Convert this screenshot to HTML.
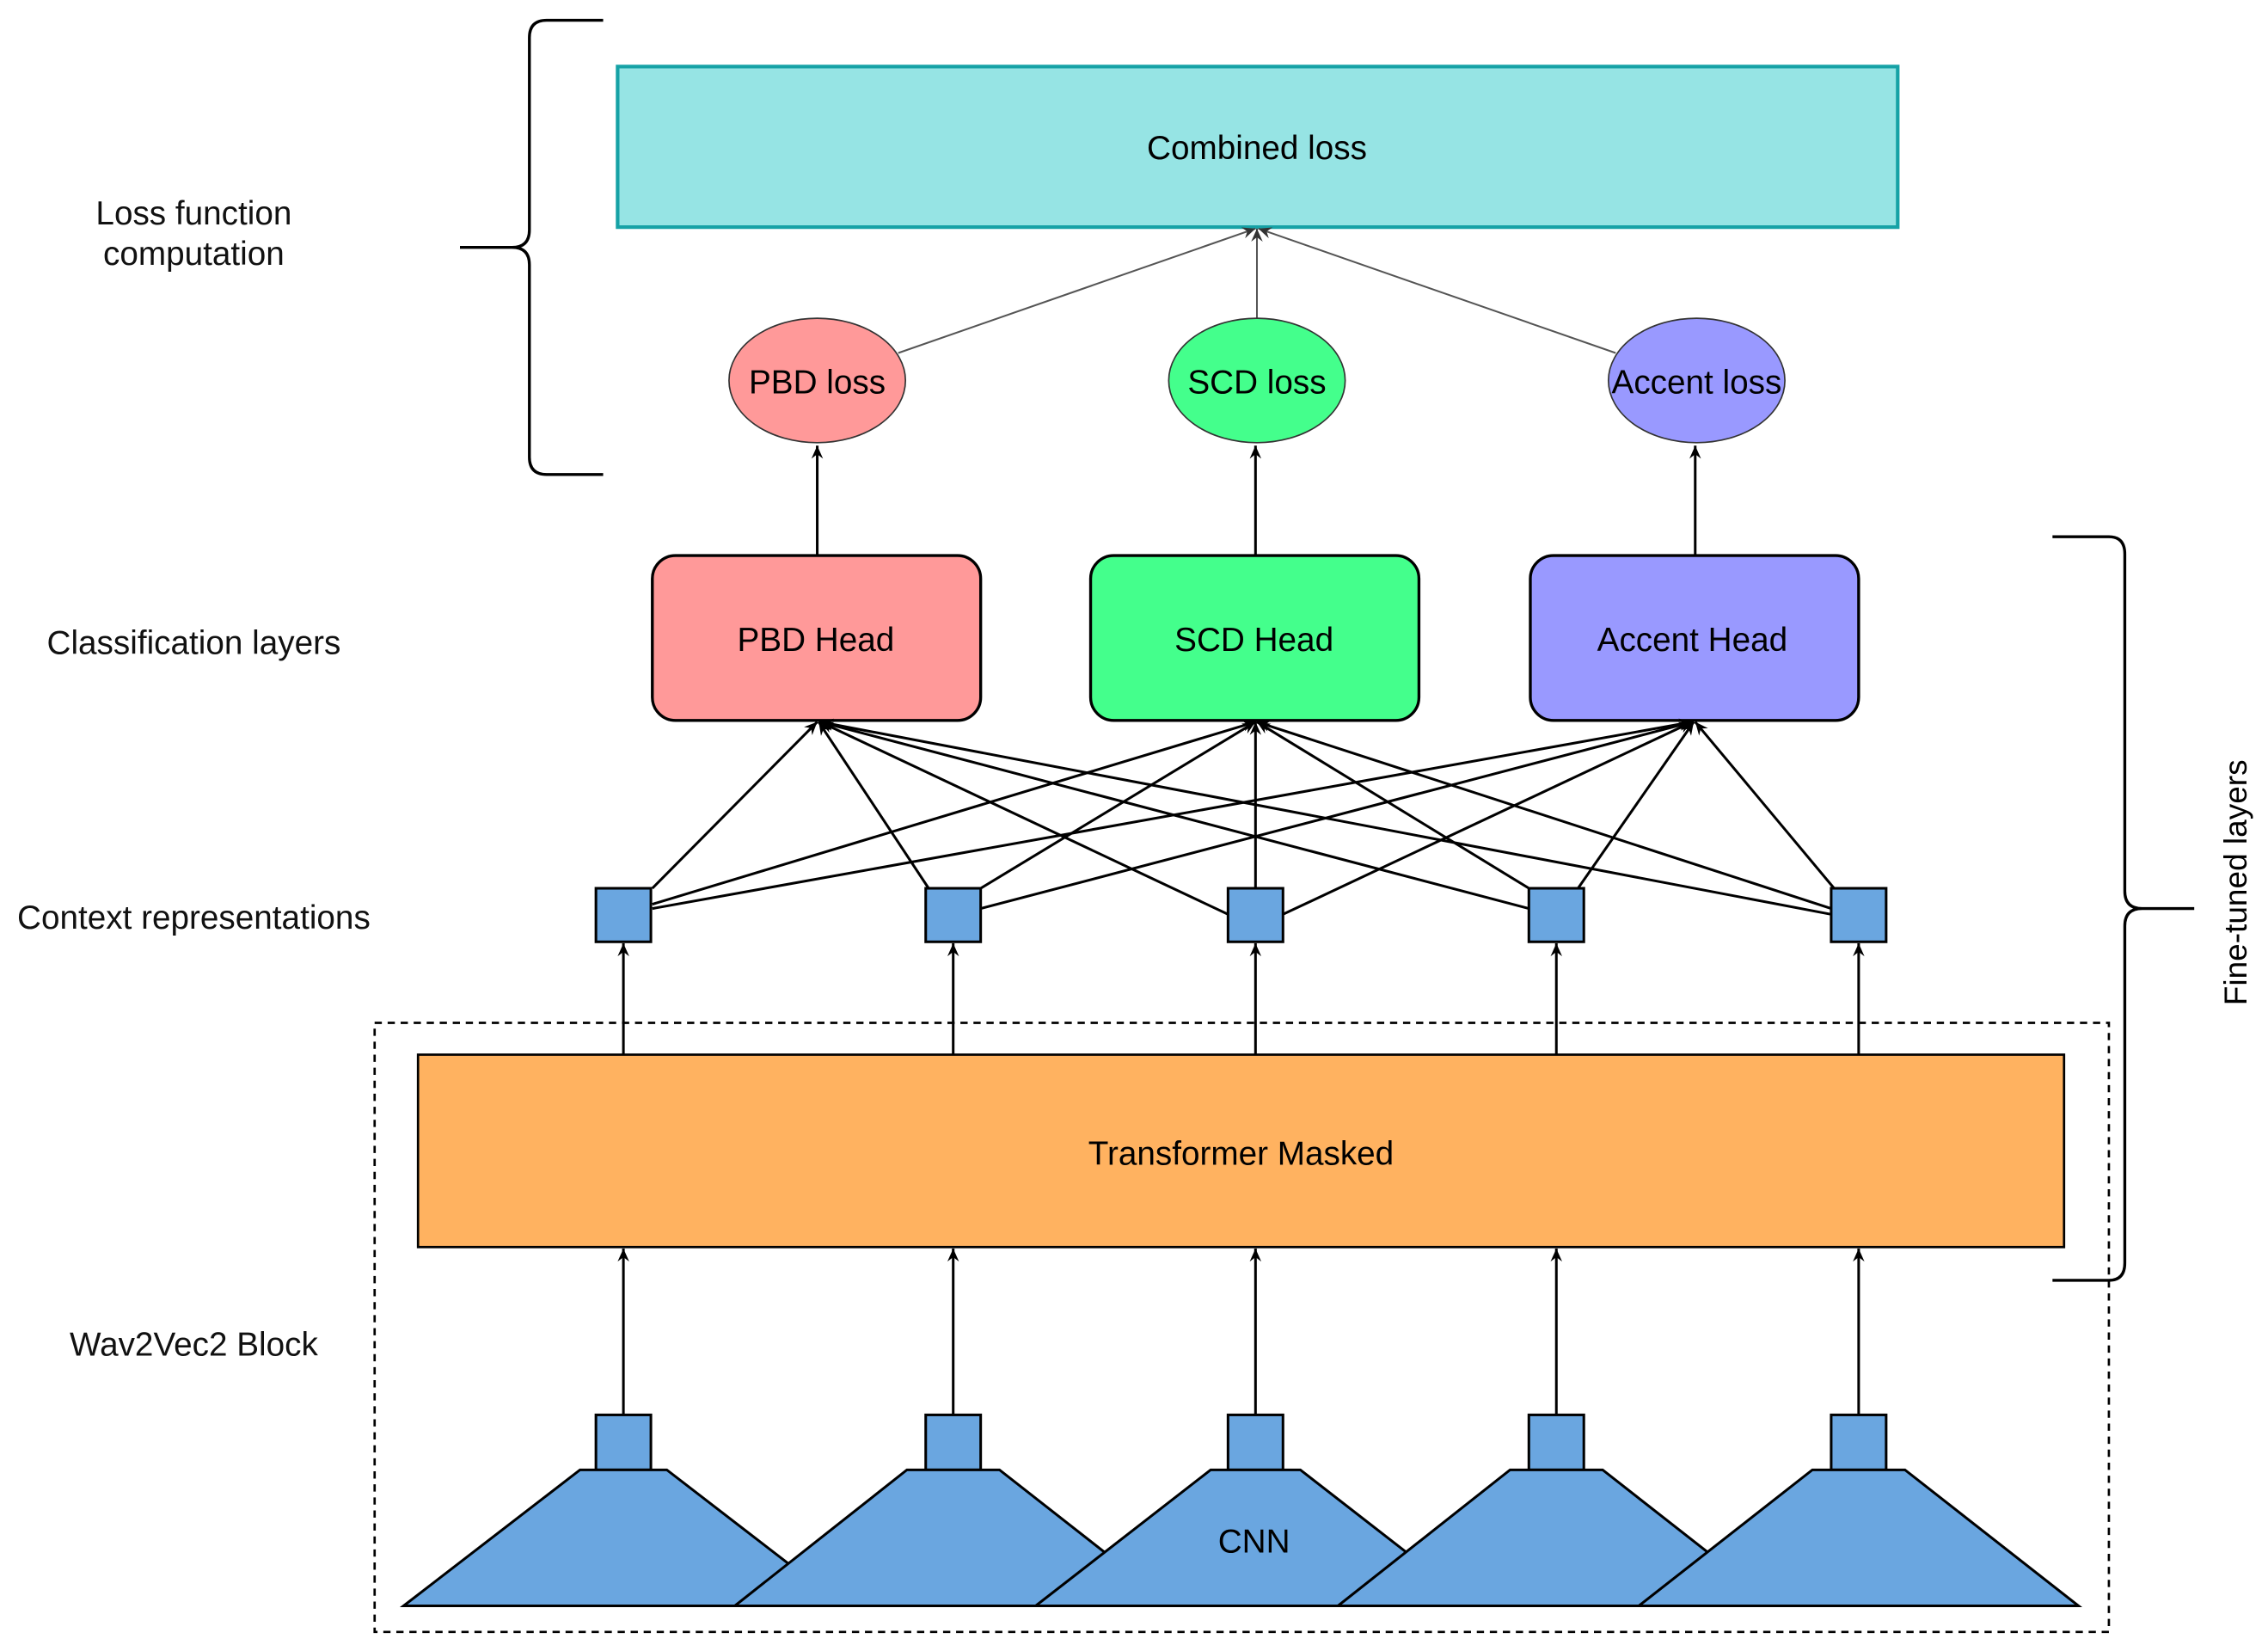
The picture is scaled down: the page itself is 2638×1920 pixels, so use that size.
<!DOCTYPE html>
<html><head><meta charset="utf-8"><style>html,body{margin:0;padding:0;background:#fff}svg{display:block}</style></head>
<body>
<svg width="2638" height="1920" viewBox="0 0 1568 1141.2" preserveAspectRatio="none" xmlns="http://www.w3.org/2000/svg" font-family="Liberation Sans, sans-serif" font-size="23">
<defs>
<marker id="a" markerWidth="10" markerHeight="10" refX="9" refY="5" orient="auto" markerUnits="userSpaceOnUse"><path d="M0,1 L9,5 L0,9 L3,5 Z" fill="#000"/></marker>
<marker id="g" markerWidth="10" markerHeight="10" refX="9" refY="5" orient="auto" markerUnits="userSpaceOnUse"><path d="M0,1 L9,5 L0,9 L3,5 Z" fill="#333"/></marker>
</defs>
<rect x="0" y="0" width="1568" height="1142" fill="#fff"/>
<path d="M417,14 L378,14 Q366,14 366,26 L366,159 Q366,171 354,171 L318,171 M354,171 Q366,171 366,183 L366,316 Q366,328 378,328 L417,328" fill="none" stroke="#000" stroke-width="2"/>
<path d="M1419,371 L1458,371 Q1469,371 1469,383 L1469,616 Q1469,628 1481,628 L1517,628 M1481,628 Q1469,628 1469,640 L1469,873 Q1469,885 1458,885 L1419,885" fill="none" stroke="#000" stroke-width="2"/>
<text x="1553" y="610" text-anchor="middle" transform="rotate(-90 1553 610)" font-size="22">Fine-tuned layers</text>
<g text-anchor="middle" fill="#111">
<text x="134" y="155">Loss function</text>
<text x="134" y="183">computation</text>
<text x="134" y="452">Classification layers</text>
<text x="134" y="642">Context representations</text>
<text x="134" y="937">Wav2Vec2 Block</text>
</g>
<rect x="427" y="46" width="885" height="111" fill="#96e4e4" stroke="#16a2a6" stroke-width="2.5"/>
<text x="869" y="110" text-anchor="middle">Combined loss</text>
<g stroke="#555" stroke-width="1.2" fill="none">
<line x1="621" y1="244" x2="868" y2="158" marker-end="url(#g)"/>
<line x1="869" y1="220" x2="869" y2="158" marker-end="url(#g)"/>
<line x1="1117" y1="244" x2="870" y2="158" marker-end="url(#g)"/>
</g>
<ellipse cx="565" cy="263" rx="61" ry="43" fill="#ff9999" stroke="#333" stroke-width="1"/>
<ellipse cx="869" cy="263" rx="61" ry="43" fill="#44ff8c" stroke="#333" stroke-width="1"/>
<ellipse cx="1173" cy="263" rx="61" ry="43" fill="#9999ff" stroke="#333" stroke-width="1"/>
<g text-anchor="middle"><text x="565" y="272">PBD loss</text><text x="869" y="272">SCD loss</text><text x="1173" y="272">Accent loss</text></g>
<g stroke="#000" stroke-width="1.8">
<line x1="565" y1="384" x2="565" y2="308" marker-end="url(#a)"/>
<line x1="868" y1="384" x2="868" y2="308" marker-end="url(#a)"/>
<line x1="1172" y1="384" x2="1172" y2="308" marker-end="url(#a)"/>
</g>
<rect x="451" y="384" width="227" height="114" rx="16" fill="#ff9999" stroke="#000" stroke-width="2"/>
<rect x="754" y="384" width="227" height="114" rx="16" fill="#44ff8c" stroke="#000" stroke-width="2"/>
<rect x="1058" y="384" width="227" height="114" rx="16" fill="#9999ff" stroke="#000" stroke-width="2"/>
<g text-anchor="middle"><text x="564" y="450">PBD Head</text><text x="867" y="450">SCD Head</text><text x="1170" y="450">Accent Head</text></g>
<g stroke="#000" stroke-width="1.8" fill="none">
<line x1="451" y1="614" x2="565" y2="499" marker-end="url(#a)"/>
<line x1="451" y1="625" x2="868" y2="499" marker-end="url(#a)"/>
<line x1="451" y1="628" x2="1170" y2="499" marker-end="url(#a)"/>
<line x1="642" y1="614" x2="566" y2="499" marker-end="url(#a)"/>
<line x1="678" y1="614" x2="868" y2="499" marker-end="url(#a)"/>
<line x1="678" y1="628" x2="1170" y2="499" marker-end="url(#a)"/>
<line x1="849" y1="632" x2="567" y2="499" marker-end="url(#a)"/>
<line x1="868" y1="614" x2="868" y2="499" marker-end="url(#a)"/>
<line x1="887" y1="632" x2="1170" y2="499" marker-end="url(#a)"/>
<line x1="1057" y1="628" x2="567" y2="499" marker-end="url(#a)"/>
<line x1="1057" y1="614" x2="869" y2="499" marker-end="url(#a)"/>
<line x1="1091" y1="614" x2="1171" y2="499" marker-end="url(#a)"/>
<line x1="1266" y1="632" x2="567" y2="499" marker-end="url(#a)"/>
<line x1="1266" y1="628" x2="869" y2="499" marker-end="url(#a)"/>
<line x1="1268" y1="614" x2="1172" y2="499" marker-end="url(#a)"/>
</g>
<g fill="#6aa6e0" stroke="#000" stroke-width="1.8">
<rect x="412" y="614" width="38" height="37"/><rect x="640" y="614" width="38" height="37"/><rect x="849" y="614" width="38" height="37"/><rect x="1057" y="614" width="38" height="37"/><rect x="1266" y="614" width="38" height="37"/>
</g>
<rect x="259" y="707" width="1199" height="421" fill="none" stroke="#000" stroke-width="1.6" stroke-dasharray="5,4"/>
<g stroke="#000" stroke-width="1.8">
<line x1="431" y1="729" x2="431" y2="652" marker-end="url(#a)"/>
<line x1="659" y1="729" x2="659" y2="652" marker-end="url(#a)"/>
<line x1="868" y1="729" x2="868" y2="652" marker-end="url(#a)"/>
<line x1="1076" y1="729" x2="1076" y2="652" marker-end="url(#a)"/>
<line x1="1285" y1="729" x2="1285" y2="652" marker-end="url(#a)"/>
</g>
<rect x="289" y="729" width="1138" height="133" fill="#ffb260" stroke="#000" stroke-width="1.6"/>
<text x="858" y="805" text-anchor="middle">Transformer Masked</text>
<g stroke="#000" stroke-width="1.8">
<line x1="431" y1="978" x2="431" y2="863" marker-end="url(#a)"/>
<line x1="659" y1="978" x2="659" y2="863" marker-end="url(#a)"/>
<line x1="868" y1="978" x2="868" y2="863" marker-end="url(#a)"/>
<line x1="1076" y1="978" x2="1076" y2="863" marker-end="url(#a)"/>
<line x1="1285" y1="978" x2="1285" y2="863" marker-end="url(#a)"/>
</g>
<g fill="#6aa6e0" stroke="#000" stroke-width="1.8" stroke-linejoin="miter">
<rect x="412" y="978" width="38" height="38"/><rect x="640" y="978" width="38" height="38"/><rect x="849" y="978" width="38" height="38"/><rect x="1057" y="978" width="38" height="38"/><rect x="1266" y="978" width="38" height="38"/>
<polygon points="401,1016 461,1016 583,1110 279,1110"/>
<polygon points="627,1016 691,1016 811,1110 508,1110"/>
<polygon points="837,1016 899,1016 1020,1110 716,1110"/>
<polygon points="1044,1016 1108,1016 1228,1110 925,1110"/>
<polygon points="1253,1016 1317,1016 1437,1110 1133,1110"/>
</g>
<text x="867" y="1073" text-anchor="middle">CNN</text>
</svg>
</body></html>
